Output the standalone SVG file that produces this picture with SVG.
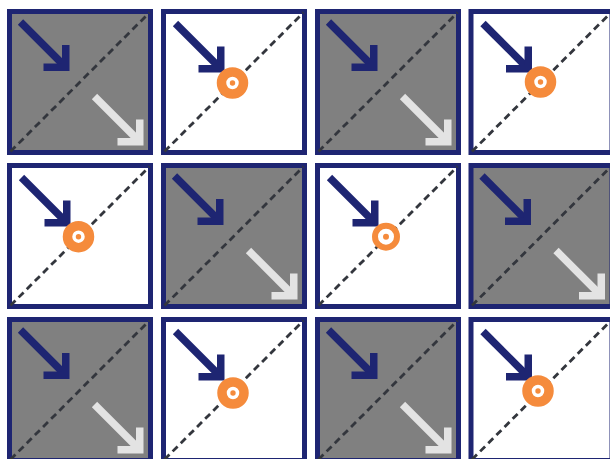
<svg xmlns="http://www.w3.org/2000/svg" xmlns:xlink="http://www.w3.org/1999/xlink" width="610" height="459" viewBox="0 0 610 459">
<style>
.box{stroke:#1e2572;stroke-width:5}
.gray{fill:#808080}
.white{fill:#ffffff}
.diag{stroke:#33363d;stroke-width:2.8;stroke-dasharray:7 4.5;fill:none}
.arr{fill:none;stroke-width:7.5;stroke-linejoin:miter;stroke-linecap:butt}
.dark{stroke:#1e2572}
.light{stroke:#e3e3e3}
.ring{fill:#ffffff;stroke:#f58b3c;stroke-width:9.5}
.ring.thin{stroke-width:6}
.dot{fill:#f58b3c}
</style>
<defs>
<g id="arrow">
<line x1="-49" y1="-49" x2="-6" y2="-6"/>
<polyline points="-26,-3.75 -3.75,-3.75 -3.75,-26"/>
</g>
<g id="grayTile">
<rect class="box gray" x="2.5" y="2.5" width="141" height="141"/>
<line class="diag" x1="3.5" y1="142.5" x2="142.5" y2="3.5"/>
<use xlink:href="#arrow" class="arr dark" transform="translate(62.5,62)"/>
<use xlink:href="#arrow" class="arr light" transform="translate(136.5,136.5)"/>
</g>
<g id="whiteTile">
<rect class="box white" x="2.5" y="2.5" width="141" height="141"/>
<line class="diag" x1="3.5" y1="142.5" x2="142.5" y2="3.5"/>
<use xlink:href="#arrow" class="arr dark" transform="translate(63.5,63.5)"/>
</g>
</defs>
<rect width="610" height="459" fill="#ffffff"/>
<g id="tile-r1c1" transform="translate(7,9)"><use xlink:href="#grayTile"/></g>
<g id="tile-r1c2" transform="translate(161,9)"><use xlink:href="#whiteTile"/><circle class="ring" cx="71.5" cy="74" r="11"/><circle class="dot" cx="71.5" cy="74" r="2.7"/></g>
<g id="tile-r1c3" transform="translate(315,9)"><use xlink:href="#grayTile"/></g>
<g id="tile-r1c4" transform="translate(468.5,9)"><use xlink:href="#whiteTile"/><circle class="ring" cx="72" cy="73" r="11"/><circle class="dot" cx="72" cy="73" r="2.7"/></g>
<g id="tile-r2c1" transform="translate(7,163)"><use xlink:href="#whiteTile"/><circle class="ring" cx="71.5" cy="73.7" r="11"/><circle class="dot" cx="71.5" cy="73.7" r="2.7"/></g>
<g id="tile-r2c2" transform="translate(161,163)"><use xlink:href="#grayTile"/></g>
<g id="tile-r2c3" transform="translate(315,163)"><use xlink:href="#whiteTile"/><circle class="ring thin" cx="71" cy="73.7" r="11"/><circle class="dot" cx="71" cy="73.7" r="3"/></g>
<g id="tile-r2c4" transform="translate(468.5,163)"><use xlink:href="#grayTile"/></g>
<g id="tile-r3c1" transform="translate(7,317)"><use xlink:href="#grayTile"/></g>
<g id="tile-r3c2" transform="translate(161,317)"><use xlink:href="#whiteTile"/><circle class="ring" cx="72" cy="76" r="11"/><circle class="dot" cx="72" cy="76" r="2.7"/></g>
<g id="tile-r3c3" transform="translate(315,317)"><use xlink:href="#grayTile"/></g>
<g id="tile-r3c4" transform="translate(468.5,317)"><use xlink:href="#whiteTile"/><circle class="ring" cx="69.5" cy="74" r="11"/><circle class="dot" cx="69.5" cy="74" r="2.7"/></g>
</svg>
